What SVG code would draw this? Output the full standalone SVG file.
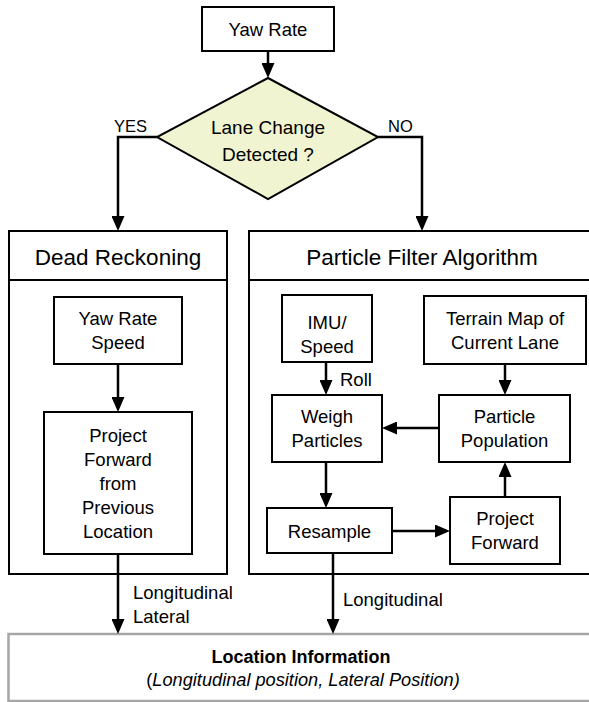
<svg xmlns="http://www.w3.org/2000/svg" width="589" height="702" viewBox="0 0 589 702">
<style>
  .box { fill: #ffffff; stroke: #000000; stroke-width: 2; }
  .t { font-family: "Liberation Sans", Arial, sans-serif; font-size: 18.5px; fill: #000; text-anchor: middle; }
  .lbl { font-family: "Liberation Sans", Arial, sans-serif; font-size: 18.5px; fill: #000; }
  .hdr { font-family: "Liberation Sans", Arial, sans-serif; font-size: 22.5px; fill: #000; text-anchor: middle; }
  .conn { fill: none; stroke: #000; stroke-width: 2.5; marker-end: url(#ah); }
</style>
<defs>
  <marker id="ah" viewBox="0 0 15 13" refX="11" refY="6.5" markerWidth="15" markerHeight="13" markerUnits="userSpaceOnUse" orient="auto">
    <path d="M0,0 L15,6.5 L0,13 z" fill="#000"/>
  </marker>
</defs>
<rect width="589" height="702" fill="#ffffff"/>

<g id="yaw-rate">
  <rect class="box" x="202" y="7" width="132" height="44"/>
  <text class="t" x="268" y="35.5">Yaw Rate</text>
</g>

<g id="lane-change">
  <polygon points="268,78 378,137 268,199 157,137" fill="#f1f4d0" stroke="#000" stroke-width="2"/>
  <text class="t" style="font-size:19px" x="268" y="134">Lane Change</text>
  <text class="t" style="font-size:19px" x="268" y="161">Detected ?</text>
</g>

<g id="dead-reckoning">
  <rect class="box" x="9" y="231" width="218" height="343"/>
  <line x1="9" y1="280" x2="227" y2="280" stroke="#000" stroke-width="2"/>
  <text class="hdr" x="118" y="265">Dead Reckoning</text>
</g>

<g id="particle-filter">
  <rect class="box" x="249" y="231" width="360" height="343"/>
  <line x1="249" y1="280" x2="609" y2="280" stroke="#000" stroke-width="2"/>
  <text class="hdr" x="422" y="265">Particle Filter Algorithm</text>
</g>

<g id="yaw-rate-speed">
  <rect class="box" x="54" y="297" width="128" height="67"/>
  <text class="t" x="118" y="325">Yaw Rate</text>
  <text class="t" x="118" y="349">Speed</text>
</g>

<g id="project-forward-previous">
  <rect class="box" x="44" y="412" width="148" height="142"/>
  <text class="t" x="118" y="441.5">Project</text>
  <text class="t" x="118" y="465.5">Forward</text>
  <text class="t" x="118" y="489.5">from</text>
  <text class="t" x="118" y="513.5">Previous</text>
  <text class="t" x="118" y="537.5">Location</text>
</g>

<g id="imu-speed">
  <rect class="box" x="282" y="295" width="90" height="67"/>
  <text class="t" x="327" y="328.5">IMU/</text>
  <text class="t" x="327" y="352.5">Speed</text>
</g>

<g id="terrain-map">
  <rect class="box" x="424" y="296" width="162" height="68"/>
  <text class="t" x="505" y="325">Terrain Map of</text>
  <text class="t" x="505" y="349">Current Lane</text>
</g>

<g id="weigh-particles">
  <rect class="box" x="272" y="395" width="110" height="67"/>
  <text class="t" x="327" y="423">Weigh</text>
  <text class="t" x="327" y="447">Particles</text>
</g>

<g id="particle-population">
  <rect class="box" x="439" y="395" width="131" height="67"/>
  <text class="t" x="504.5" y="423">Particle</text>
  <text class="t" x="504.5" y="447">Population</text>
</g>

<g id="resample">
  <rect class="box" x="267" y="508" width="125" height="45"/>
  <text class="t" x="329.5" y="537.5">Resample</text>
</g>

<g id="project-forward">
  <rect class="box" x="450" y="497" width="110" height="67"/>
  <text class="t" x="505" y="525">Project</text>
  <text class="t" x="505" y="549">Forward</text>
</g>

<g id="location-information">
  <rect x="8.5" y="634" width="600" height="67" fill="#ffffff" stroke="#a6a6a6" stroke-width="2.5"/>
  <text class="t" style="font-weight:bold;font-size:18px" x="301" y="663">Location Information</text>
  <text class="t" style="font-size:18.2px" x="303" y="686">(<tspan font-style="italic">Longitudinal position, Lateral Position)</tspan></text>
</g>

<g id="connectors">
  <path class="conn" d="M268,51 V74"/>
  <path class="conn" d="M157,137 H118 V227"/>
  <path class="conn" d="M378,137 H422 V227"/>
  <path class="conn" d="M118,364 V408"/>
  <path class="conn" d="M118,554 V630"/>
  <path class="conn" d="M326,362 V391"/>
  <path class="conn" d="M505,364 V391"/>
  <path class="conn" d="M439,428 H386"/>
  <path class="conn" d="M326,462 V504"/>
  <path class="conn" d="M392,531 H446"/>
  <path class="conn" d="M505,497 V466"/>
  <path class="conn" d="M333,553 V630"/>
  <text class="lbl" style="font-size:16.5px" x="114" y="132">YES</text>
  <text class="lbl" style="font-size:16.5px" x="388" y="132">NO</text>
  <text class="lbl" x="340" y="385.5">Roll</text>
  <text class="lbl" x="133" y="599">Longitudinal</text>
  <text class="lbl" x="133" y="623">Lateral</text>
  <text class="lbl" x="343" y="606">Longitudinal</text>
</g>
</svg>
